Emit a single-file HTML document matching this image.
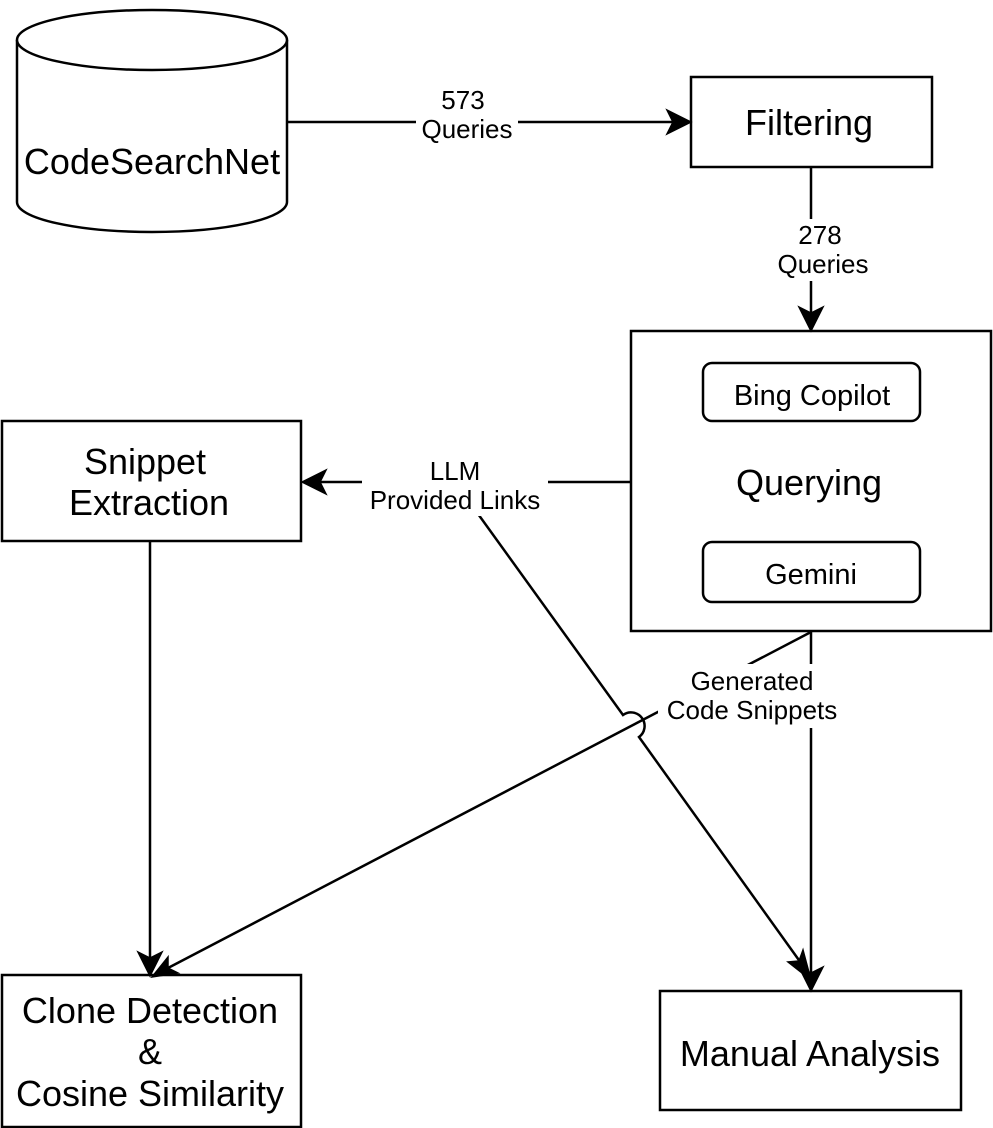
<!DOCTYPE html>
<html><head><style>
html,body{margin:0;padding:0;background:#fff;}
svg{display:block;font-family:"Liberation Sans",Arial,sans-serif;}
</style></head><body>
<svg width="993" height="1128" viewBox="0 0 993 1128">
<g fill="none" stroke="#000" stroke-width="2.5">
<path d="M17,40 L17,202 A135,30 0 0 0 287,202 L287,40" fill="#fff"/>
<ellipse cx="152" cy="40" rx="135" ry="30" fill="#fff"/>
<rect x="691" y="77" width="241" height="90" fill="#fff"/>
<rect x="631" y="331" width="360" height="300" fill="#fff"/>
<rect x="703" y="363" width="217" height="58" rx="9" fill="#fff"/>
<rect x="703" y="542" width="217" height="60" rx="9" fill="#fff"/>
<rect x="2" y="421" width="299" height="120" fill="#fff"/>
<rect x="2" y="975" width="299" height="152" fill="#fff"/>
<rect x="660" y="991" width="301" height="119" fill="#fff"/>
<line x1="287" y1="122" x2="676" y2="122"/>
<line x1="811" y1="167" x2="811" y2="316"/>
<line x1="631" y1="482" x2="318" y2="482"/>
<line x1="150" y1="541" x2="150" y2="960"/>
<line x1="811" y1="631" x2="811" y2="974"/>
<line x1="811" y1="632" x2="168" y2="968"/>
<path d="M455,482 L623,715 A11,11 0 0 1 639,737 L801,963"/>
</g>
<g fill="#000" stroke="#000" stroke-width="1.5" stroke-linejoin="miter">
<path d="M691,122 L667,110 L673,122 L667,134 Z"/>
<path d="M811,331 L799,307 L811,313 L823,307 Z"/>
<path d="M302,482 L326,470 L320,482 L326,494 Z"/>
<path d="M150,976 L138,952 L150,958 L162,952 Z"/>
<path d="M811,991 L799,967 L811,973 L823,967 Z"/>
<path d="M152,977 L168,957 L168,968 L178,973 Z"/>
<path d="M811,980 L788,962 L799,961 L803,950 Z"/>
</g>
<g fill="#fff">
<rect x="416" y="86" width="102" height="56"/>
<rect x="792" y="219" width="82" height="62"/>
<rect x="362" y="454" width="186" height="62"/>
<rect x="658" y="664" width="186" height="64"/>
</g>
<g fill="#000" text-anchor="middle">
<text x="152" y="174" font-size="36">CodeSearchNet</text>
<text x="809" y="135" font-size="36">Filtering</text>
<text x="812" y="405" font-size="29">Bing Copilot</text>
<text x="809" y="495" font-size="36">Querying</text>
<text x="811" y="584" font-size="29">Gemini</text>
<text x="145" y="474" font-size="36">Snippet</text>
<text x="149" y="515" font-size="36">Extraction</text>
<text x="150" y="1023" font-size="36">Clone Detection</text>
<text x="150" y="1064" font-size="36">&amp;</text>
<text x="150" y="1106" font-size="36">Cosine Similarity</text>
<text x="810" y="1066" font-size="36">Manual Analysis</text>
<g font-size="26">
<text x="463" y="109">573</text>
<text x="467" y="138">Queries</text>
<text x="820" y="244">278</text>
<text x="823" y="273">Queries</text>
<text x="455" y="480">LLM</text>
<text x="455" y="509">Provided Links</text>
<text x="752" y="690">Generated</text>
<text x="752" y="719">Code Snippets</text>
</g>
</g>
</svg>
</body></html>
